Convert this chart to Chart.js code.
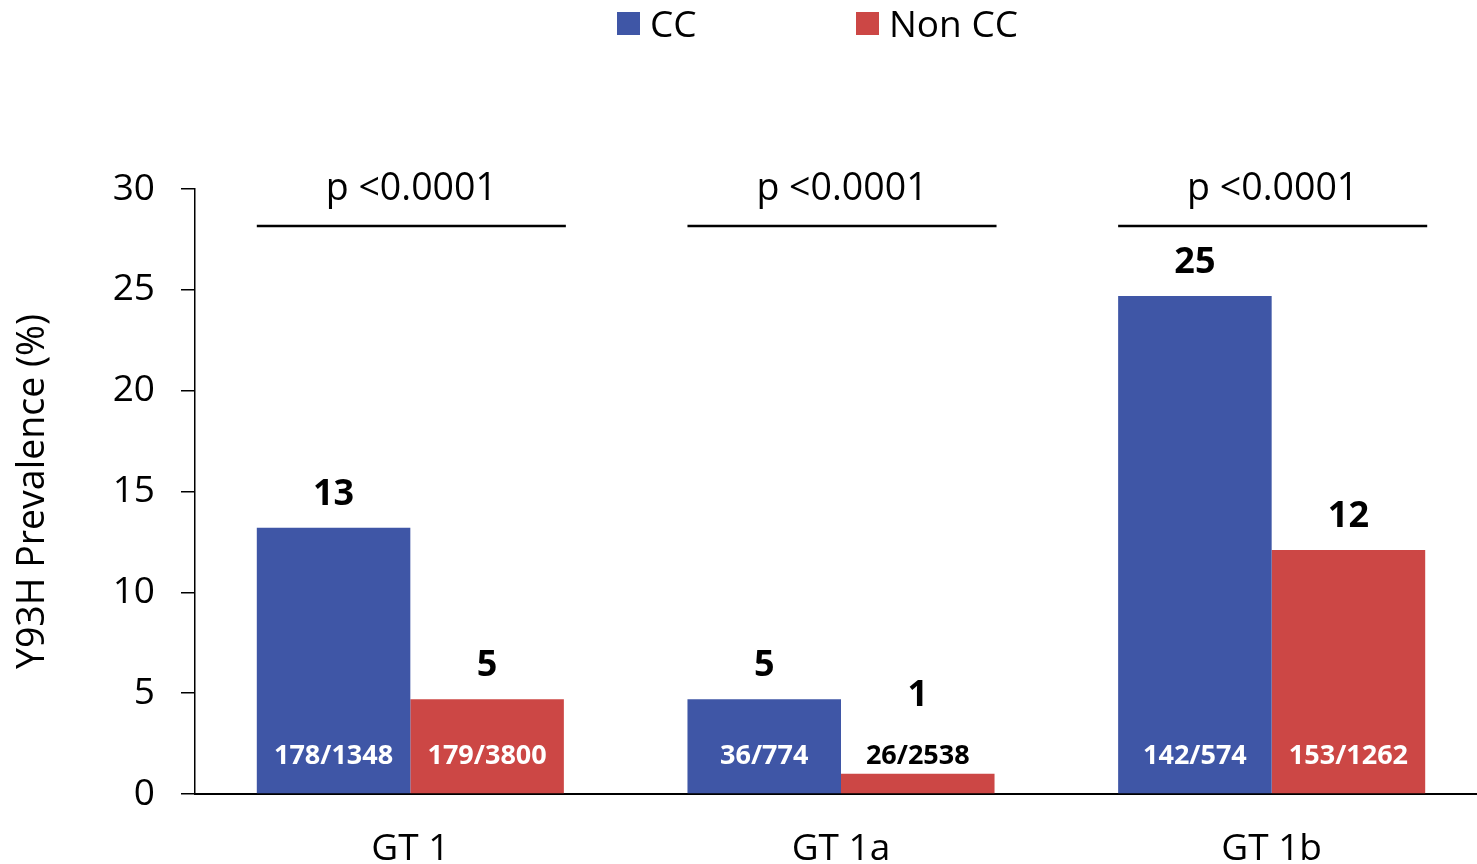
<!DOCTYPE html>
<html>
<head>
<meta charset="utf-8">
<script src="https://cdn.jsdelivr.net/npm/chart.js@4/dist/chart.umd.min.js"></script>
<style>
  html, body { margin: 0; padding: 0; background: #ffffff; overflow: hidden; }
  #wrap { width: 1487px; height: 864px; }
</style>
</head>
<body>
<div id="wrap"><canvas id="c" width="1487" height="864"></canvas></div>
<script>
// Y93H prevalence by genotype, CC vs non-CC patients
const categories = ['GT 1', 'GT 1a', 'GT 1b'];
const ccValues = [13.2, 4.7, 24.7];
const nonCcValues = [4.7, 1.0, 12.1];
const ccCounts = ['178/1348', '36/774', '142/574'];
const nonCcCounts = ['179/3800', '26/2538', '153/1262'];
const pLabels = ['p <0.0001', 'p <0.0001', 'p <0.0001'];
const yTicks = [0, 5, 10, 15, 20, 25, 30];

const FONT = '"Open Sans", "DejaVu Sans", sans-serif';
const BLUE = '#3F56A6';
const RED = '#CC4745';

const annotations = {
  id: 'annotations',
  afterDraw(chart) {
    const ctx = chart.ctx;
    const area = chart.chartArea;
    const m0 = chart.getDatasetMeta(0);
    const m1 = chart.getDatasetMeta(1);
    const countSets = [ccCounts, nonCcCounts];

    ctx.save();
    // value and count labels on each bar
    [m0, m1].forEach((meta, di) => {
      meta.data.forEach((bar, i) => {
        const v = chart.data.datasets[di].data[i];
        const h = bar.base - bar.y;
        const countY = bar.base - 37;
        ctx.textAlign = 'center';
        ctx.textBaseline = 'middle';
        ctx.font = 'bold 27px ' + FONT;
        ctx.fillStyle = h > 40 ? '#ffffff' : '#000000';
        ctx.fillText(countSets[di][i], bar.x, countY);

        ctx.font = 'bold 36px ' + FONT;
        ctx.fillStyle = '#000000';
        const top = Math.min(bar.y, bar.base - 65);
        ctx.fillText(String(Math.round(v)), bar.x, top - 33);
      });
    });

    // significance brackets above each category
    m0.data.forEach((bar, i) => {
      const other = m1.data[i];
      const x0 = bar.x - bar.width / 2;
      const x1 = other.x + other.width / 2 + 2;
      const ly = area.top + 37;
      ctx.strokeStyle = '#000000';
      ctx.lineWidth = 2.5;
      ctx.beginPath();
      ctx.moveTo(x0, ly);
      ctx.lineTo(x1, ly);
      ctx.stroke();
      ctx.font = '37.5px ' + FONT;
      ctx.fillStyle = '#000000';
      ctx.textAlign = 'center';
      ctx.textBaseline = 'middle';
      ctx.fillText(pLabels[i], (x0 + x1) / 2, area.top);
    });

    // legend along the top
    const legendX = [617, 856];
    chart.data.datasets.forEach((ds, di) => {
      const x = legendX[di];
      ctx.fillStyle = ds.backgroundColor;
      ctx.fillRect(x, 12, 23, 23);
      ctx.font = '37px ' + FONT;
      ctx.fillStyle = '#000000';
      ctx.textAlign = 'left';
      ctx.textBaseline = 'middle';
      ctx.fillText(ds.label, x + 33, 26);
    });
    ctx.restore();
  }
};

new Chart(document.getElementById('c'), {
  type: 'bar',
  data: {
    labels: categories,
    datasets: [
      { label: 'CC', data: ccValues, backgroundColor: BLUE, borderWidth: 0 },
      { label: 'Non CC', data: nonCcValues, backgroundColor: RED, borderWidth: 0 }
    ]
  },
  options: {
    responsive: false,
    animation: false,
    devicePixelRatio: 1,
    layout: { padding: { top: 189, left: 0, right: 0, bottom: 0 } },
    datasets: { bar: { categoryPercentage: 0.713, barPercentage: 1.0 } },
    plugins: {
      legend: { display: false },
      tooltip: { enabled: false }
    },
    scales: {
      x: {
        afterFit(scale) { scale.height = 70; },
        grid: { display: false, drawTicks: false },
        border: { display: true, color: '#000000', width: 2 },
        ticks: { color: '#000000', font: { family: FONT, size: 37 }, padding: 33 }
      },
      y: {
        min: 0,
        max: 30,
        afterFit(scale) { scale.width = 195; },
        afterBuildTicks(scale) { scale.ticks = yTicks.map(v => ({ value: v })); },
        grid: { display: true, drawOnChartArea: false, drawTicks: true, tickLength: 14, color: '#000000', lineWidth: 1.5 },
        border: { display: true, color: '#000000', width: 1.5 },
        ticks: { color: '#000000', font: { family: FONT, size: 37 }, padding: 26 },
        title: {
          display: true,
          text: 'Y93H Prevalence (%)',
          color: '#000000',
          font: { family: FONT, size: 37.5 },
          padding: { top: 11, bottom: 0 }
        }
      }
    }
  },
  plugins: [annotations]
});
</script>
</body>
</html>
